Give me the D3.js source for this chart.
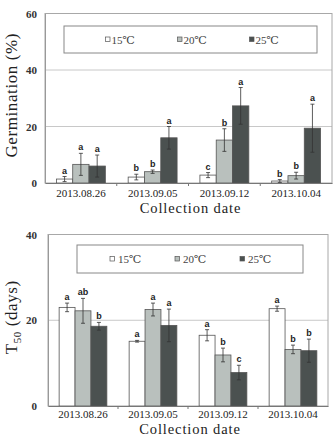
<!DOCTYPE html>
<html>
<head>
<meta charset="utf-8">
<script src="https://cdn.jsdelivr.net/npm/d3@7"></script>
<style>
  body { margin: 0; background: #fff; }
  svg { display: block; }
</style>
</head>
<body>
<div id="chart"></div>
<script>
// collection dates and temperatures
var dates = ["2013.08.26", "2013.09.05", "2013.09.12", "2013.10.04"];
var temps = ["15℃", "20℃", "25℃"];

// germination (%)
var germ15 = [1.4, 2.1, 2.8, 0.7];
var germ20 = [6.6, 4.0, 15.2, 2.6];
var germ25 = [6.0, 16.0, 27.3, 19.4];
var germ15Err = [0.9, 1.0, 0.9, 0.5];
var germ20Err = [3.9, 0.6, 4.0, 1.2];
var germ25Err = [3.9, 4.0, 6.5, 8.5];
var germ15Let = ["a", "b", "c", "b"];
var germ20Let = ["a", "b", "b", "b"];
var germ25Let = ["a", "a", "a", "a"];
var germTicks = [0, 20, 40, 60];

// T50 (days)
var t15 = [23.0, 15.1, 16.5, 22.7];
var t20 = [22.2, 22.5, 11.9, 13.2];
var t25 = [18.6, 18.8, 7.8, 12.9];
var t15Err = [1.0, 0.2, 1.3, 0.6];
var t20Err = [2.9, 1.5, 1.6, 1.0];
var t25Err = [0.9, 3.8, 1.7, 2.7];
var t15Let = ["a", "a", "a", "a"];
var t20Let = ["ab", "a", "b", "b"];
var t25Let = ["b", "a", "c", "b"];
var tTicks = [0, 20, 40];

var width = 335, height = 437;
var color = d3.scaleOrdinal().domain(temps).range(["#ffffff", "#b9c0bd", "#4b5150"]);
var serif = "'Liberation Serif', 'DejaVu Serif', serif";

var svg = d3.select("#chart").append("svg")
  .attr("width", width)
  .attr("height", height);

function rows(means, errs, lets) {
  var out = [];
  dates.forEach(function(d, i) {
    temps.forEach(function(t, j) {
      out.push({date: d, temp: t, value: means[j][i], err: errs[j][i], letter: lets[j][i]});
    });
  });
  return out;
}

function drawChart(cfg) {
  var g = svg.append("g");

  var x0 = d3.scaleBand().domain(dates).range([cfg.left, cfg.right]);
  var x1 = d3.scaleBand().domain(temps).range([0, x0.bandwidth()]).paddingOuter(0.7);
  var y = d3.scaleLinear().domain([0, d3.max(cfg.ticks)]).range([cfg.bottom, cfg.top]);

  // gridlines
  g.selectAll(".grid")
    .data(cfg.ticks.filter(function(d) { return d > 0 && d < d3.max(cfg.ticks); }))
    .enter().append("line")
    .attr("x1", cfg.left).attr("x2", cfg.right)
    .attr("y1", function(d) { return y(d); })
    .attr("y2", function(d) { return y(d); })
    .attr("stroke", "#c8c8c8");

  // frame
  g.append("rect")
    .attr("x", cfg.left).attr("y", cfg.top)
    .attr("width", cfg.right - cfg.left)
    .attr("height", cfg.bottom - cfg.top)
    .attr("fill", "none")
    .attr("stroke", "#a8a8a8");

  var data = rows(cfg.means, cfg.errs, cfg.lets);

  var bars = g.selectAll(".bar").data(data).enter().append("g");

  bars.append("rect")
    .attr("x", function(d) { return x0(d.date) + x1(d.temp); })
    .attr("y", function(d) { return y(d.value); })
    .attr("width", x1.bandwidth())
    .attr("height", function(d) { return y(0) - y(d.value); })
    .attr("fill", function(d) { return color(d.temp); })
    .attr("stroke", "#555")
    .attr("stroke-width", 0.8);

  var cx = function(d) { return x0(d.date) + x1(d.temp) + x1.bandwidth() / 2; };

  bars.append("line")
    .attr("x1", cx).attr("x2", cx)
    .attr("y1", function(d) { return y(d.value + d.err); })
    .attr("y2", function(d) { return y(d.value - d.err); })
    .attr("stroke", "#333").attr("stroke-width", 0.8);
  [1, -1].forEach(function(s) {
    bars.append("line")
      .attr("x1", function(d) { return cx(d) - 2; })
      .attr("x2", function(d) { return cx(d) + 2; })
      .attr("y1", function(d) { return y(d.value + s * d.err); })
      .attr("y2", function(d) { return y(d.value + s * d.err); })
      .attr("stroke", "#333").attr("stroke-width", 0.8);
  });

  bars.append("text")
    .attr("x", cx)
    .attr("y", function(d) { return y(d.value + d.err) - 3; })
    .attr("text-anchor", "middle")
    .style("font-family", "'Liberation Sans', Arial, sans-serif")
    .style("font-weight", "bold")
    .style("font-size", "9px")
    .attr("fill", "#222")
    .text(function(d) { return d.letter; });

  // x axis
  var xAxis = g.append("g")
    .attr("transform", "translate(0," + cfg.bottom + ")")
    .call(d3.axisBottom(x0).tickSize(0).tickPadding(cfg.xPad));
  xAxis.select(".domain").attr("stroke", "#777");
  xAxis.selectAll("text")
    .style("font-family", serif)
    .style("font-size", "11px")
    .attr("fill", "#222");

  g.selectAll(".xtick")
    .data(dates.slice(1))
    .enter().append("line")
    .attr("x1", function(d) { return x0(d); })
    .attr("x2", function(d) { return x0(d); })
    .attr("y1", cfg.bottom).attr("y2", cfg.bottom + 3)
    .attr("stroke", "#777");

  // y axis
  var yAxis = g.append("g")
    .attr("transform", "translate(" + cfg.left + ",0)")
    .call(d3.axisLeft(y).tickValues(cfg.ticks).tickSize(0).tickPadding(cfg.left - 37));
  yAxis.select(".domain").attr("stroke", "#999");
  yAxis.selectAll("text")
    .style("font-family", serif)
    .style("font-size", "11px")
    .style("font-weight", "bold")
    .attr("fill", "#333");

  // axis titles
  g.append("text")
    .attr("x", (cfg.left + cfg.right) / 2 + 2)
    .attr("y", cfg.bottom + cfg.xTitleGap)
    .attr("text-anchor", "middle")
    .style("font-family", serif)
    .style("font-size", "14.5px")
    .style("letter-spacing", "0.9px")
    .attr("fill", "#222")
    .text("Collection date");

  var yt = g.append("text")
    .attr("transform", "translate(17," + ((cfg.top + cfg.bottom) / 2 - 3) + ") rotate(-90)")
    .attr("text-anchor", "middle")
    .style("font-family", serif)
    .style("font-size", "17px")
    .style("letter-spacing", "0.6px")
    .attr("fill", "#222");
  cfg.title(yt);

  // legend
  var lg = g.append("g");
  lg.append("rect")
    .attr("x", cfg.legend.x).attr("y", cfg.legend.y)
    .attr("width", cfg.legend.w).attr("height", cfg.legend.h)
    .attr("fill", "#fff").attr("stroke", "#888");
  var items = lg.selectAll(".item").data(temps).enter().append("g")
    .attr("transform", function(d, i) {
      return "translate(" + (cfg.legend.first + i * cfg.legend.step) + "," + (cfg.legend.y + cfg.legend.h / 2) + ")";
    });
  items.append("rect")
    .attr("x", 0).attr("y", -2.5)
    .attr("width", 4.5).attr("height", 4.5)
    .attr("fill", function(d) { return color(d); })
    .attr("stroke", "#555").attr("stroke-width", 0.7);
  items.append("text")
    .attr("x", cfg.legend.gap)
    .attr("y", 4)
    .style("font-family", serif)
    .style("font-size", "11px")
    .attr("fill", "#444")
    .text(function(d) { return d; });
}

drawChart({
  left: 45, right: 332, top: 13.5, bottom: 183,
  xPad: 6, xTitleGap: 30,
  ticks: germTicks,
  means: [germ15, germ20, germ25],
  errs: [germ15Err, germ20Err, germ25Err],
  lets: [germ15Let, germ20Let, germ25Let],
  legend: {x: 64, y: 26, w: 253, h: 27, first: 105.5, step: 72, gap: 6},
  title: function(t) { t.text("Germination (%)"); }
});

drawChart({
  left: 48, right: 328, top: 234.5, bottom: 406,
  xPad: 4, xTitleGap: 27.5,
  ticks: tTicks,
  means: [t15, t20, t25],
  errs: [t15Err, t20Err, t25Err],
  lets: [t15Let, t20Let, t25Let],
  legend: {x: 77, y: 245, w: 226, h: 28, first: 110, step: 65, gap: 8},
  title: function(t) {
    t.append("tspan").text("T");
    t.append("tspan").attr("dy", 4).style("font-size", "11px").text("50");
    t.append("tspan").attr("dy", -4).text(" (days)");
  }
});
</script>
</body>
</html>
